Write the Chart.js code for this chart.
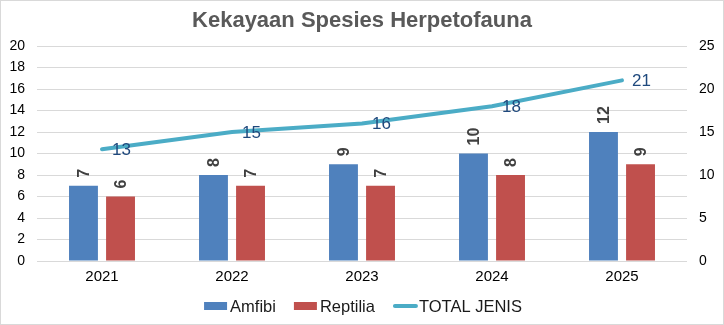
<!DOCTYPE html>
<html>
<head>
<meta charset="utf-8">
<script src="https://cdn.jsdelivr.net/npm/chart.js@4.4.1/dist/chart.umd.min.js"></script>
<style>
  html, body { margin: 0; padding: 0; background: #fff; }
  canvas { display: block; }
</style>
</head>
<body>
<canvas id="herpChart" width="724" height="325"></canvas>
<script>
const years = ['2021', '2022', '2023', '2024', '2025'];
const amfibi = [7, 8, 9, 10, 12];
const reptilia = [6, 7, 7, 8, 9];
const totalJenis = [13, 15, 16, 18, 21];
const leftAxis = { min: 0, max: 20, step: 2 };
const rightAxis = { min: 0, max: 25, step: 5 };

const FONT = "'Liberation Sans', Arial, sans-serif";
const BLUE = '#4F81BD', RED = '#C0504D', TEAL = '#4BACC6';

// title, labels, legend and the outer border are drawn here
const extras = {
  id: 'extras',
  beforeDraw(chart) {
    const c = chart.ctx;
    c.save();
    c.fillStyle = '#fff';
    c.fillRect(0, 0, chart.width, chart.height);
    c.strokeStyle = '#d9d9d9';
    c.lineWidth = 1;
    c.strokeRect(0.5, 0.5, chart.width - 1, chart.height - 1);
    c.restore();
  },
  afterDatasetsDraw(chart) {
    const c = chart.ctx;
    c.save();
    // bar labels, rotated
    c.font = 'bold 16px ' + FONT;
    c.fillStyle = '#404040';
    c.textAlign = 'left';
    c.textBaseline = 'middle';
    [0, 1].forEach(di => {
      const ds = chart.data.datasets[di];
      chart.getDatasetMeta(di).data.forEach((bar, i) => {
        c.save();
        c.translate(bar.x, bar.y - 8);
        c.rotate(-Math.PI / 2);
        c.fillText(String(ds.data[i]), 0, 1);
        c.restore();
      });
    });
    // line labels
    c.font = '17px ' + FONT;
    c.fillStyle = '#1F497D';
    const lineDs = chart.data.datasets[2];
    chart.getDatasetMeta(2).data.forEach((pt, i) => {
      c.fillText(String(lineDs.data[i]), pt.x + 10, pt.y + 1);
    });
    c.restore();
  },
  afterDraw(chart) {
    const c = chart.ctx;
    c.save();
    // title
    c.font = 'bold 22px ' + FONT;
    c.fillStyle = '#595959';
    c.textAlign = 'center';
    c.textBaseline = 'alphabetic';
    c.fillText('Kekayaan Spesies Herpetofauna', chart.width / 2, 27);

    // legend
    c.font = '16.5px ' + FONT;
    c.textBaseline = 'middle';
    c.textAlign = 'left';
    const items = chart.data.datasets.map(ds => ({ text: ds.label, color: ds.borderColor || ds.backgroundColor, line: ds.type === 'line' }));
    const sw = 23, gapText = 3, gapItem = 18;
    let total = 0;
    items.forEach((it, k) => {
      it.w = c.measureText(it.text).width;
      total += sw + gapText + it.w + (k < items.length - 1 ? gapItem : 0);
    });
    let x = chart.width / 2 - total / 2 + 1;
    const ly = 306;
    items.forEach(it => {
      if (it.line) {
        c.strokeStyle = it.color;
        c.lineWidth = 4;
        c.lineCap = 'round';
        c.beginPath();
        c.moveTo(x + 2, ly);
        c.lineTo(x + sw, ly);
        c.stroke();
      } else {
        c.fillStyle = it.color;
        c.fillRect(x, ly - 4, sw, 8);
      }
      c.fillStyle = '#1a1a1a';
      c.fillText(it.text, x + sw + gapText, ly + 1);
      x += sw + gapText + it.w + gapItem;
    });
    c.restore();
  }
};

const ctx = document.getElementById('herpChart').getContext('2d');
const herpChart = new Chart(ctx, {
  type: 'bar',
  data: {
    labels: years,
    datasets: [
      { label: 'Amfibi', data: amfibi, backgroundColor: BLUE, yAxisID: 'y', order: 1,
        categoryPercentage: 0.57, barPercentage: 0.78 },
      { label: 'Reptilia', data: reptilia, backgroundColor: RED, yAxisID: 'y', order: 1,
        categoryPercentage: 0.57, barPercentage: 0.78 },
      { type: 'line', label: 'TOTAL JENIS', data: totalJenis, borderColor: TEAL, backgroundColor: TEAL,
        borderWidth: 4, pointRadius: 0, tension: 0, borderCapStyle: 'round', yAxisID: 'y1', order: 0 }
    ]
  },
  options: {
    responsive: false,
    animation: false,
    devicePixelRatio: 1,
    layout: { padding: { top: 46, bottom: 34, left: 0, right: 0 } },
    plugins: { legend: { display: false }, title: { display: false }, tooltip: { enabled: false } },
    scales: {
      x: {
        grid: { display: false, drawTicks: false },
        border: { display: false },
        ticks: { font: { family: FONT, size: 15 }, color: '#000', padding: 7 },
        afterFit(s) { s.height = 30; }
      },
      y: {
        position: 'left',
        min: leftAxis.min, max: leftAxis.max,
        ticks: { stepSize: leftAxis.step, font: { family: FONT, size: 14 }, color: '#000', padding: 12 },
        grid: { color: '#d9d9d9', drawTicks: false },
        border: { display: false },
        afterFit(s) { s.width = 37; }
      },
      y1: {
        position: 'right',
        min: rightAxis.min, max: rightAxis.max,
        ticks: { stepSize: rightAxis.step, font: { family: FONT, size: 14 }, color: '#000', padding: 12 },
        grid: { drawOnChartArea: false, drawTicks: false },
        border: { display: false },
        afterFit(s) { s.width = 37; }
      }
    }
  },
  plugins: [extras]
});
</script>
</body>
</html>
